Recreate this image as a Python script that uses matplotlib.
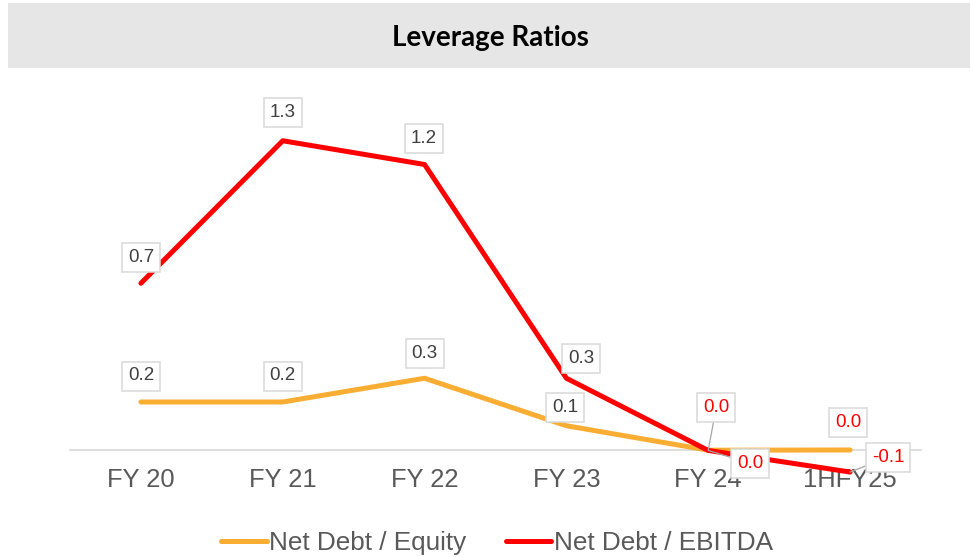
import matplotlib
matplotlib.use("Agg")
import matplotlib.pyplot as plt
from matplotlib.patches import Rectangle

# Data
periods = ["FY 20", "FY 21", "FY 22", "FY 23", "FY 24", "1HFY25"]
net_debt_equity = [0.20, 0.20, 0.30, 0.10, -0.003, -0.002]
net_debt_ebitda = [0.70, 1.30, 1.20, 0.30, -0.004, -0.095]

# Label offsets in pixels (dx, dy) and whether a leader line is drawn
equity_offsets = [(0, 26), (0, 26), (0, 25), (-1, 18), (8, 43), (-2, 27)]
equity_leader = [False, False, False, False, True, False]
ebitda_offsets = [(0, 26), (0, 28), (-1, 26), (15, 20), (42, -13), (38, 15)]
ebitda_leader = [False, False, False, False, True, True]

ORANGE = "#F9AD33"
RED = "#FF0000"
GRAY_TXT = "#595959"
LABEL_TXT = "#404040"

plt.rcParams["font.family"] = ["Liberation Sans", "DejaVu Sans"]

fig = plt.figure(figsize=(9.72, 5.57), dpi=100)

# Title bar
fig.patches.append(Rectangle((8 / 972, 1 - 68 / 557), 962 / 972, 65 / 557,
                             transform=fig.transFigure, facecolor="#E6E6E6",
                             edgecolor="none", zorder=0))
fig.text(490 / 972, 1 - 38 / 557, "Leverage Ratios", ha="center", va="center",
         fontsize=20, fontweight="bold", family=["Lato", "DejaVu Sans"], color="black")

ax = fig.add_axes([70 / 972, 1 - 497 / 557, 851 / 972, 380 / 557])
x = list(range(len(periods)))

ax.plot(x, net_debt_equity, color=ORANGE, lw=3.6, solid_capstyle="round",
        label="Net Debt / Equity", zorder=3)
ax.plot(x, net_debt_ebitda, color=RED, lw=3.6, solid_capstyle="round",
        label="Net Debt / EBITDA", zorder=4)

for s in ["top", "left", "right"]:
    ax.spines[s].set_visible(False)
ax.spines["bottom"].set_position(("data", 0))
ax.spines["bottom"].set_color("#D9D9D9")
ax.spines["bottom"].set_linewidth(1.2)

ax.set_xlim(-0.5, len(periods) - 0.5)
ax.set_ylim(-0.2, 1.4)
ax.set_xticks(x)
ax.set_xticklabels(periods)
ax.set_yticks([])
ax.tick_params(axis="x", length=0, pad=13, labelsize=18.4, labelcolor=GRAY_TXT)


def add_labels(values, offsets, leaders):
    for i, v in enumerate(values):
        txt = "0.0" if abs(v) < 0.05 else f"{v:.1f}"
        col = RED if v < 0 else LABEL_TXT
        arrow = None
        if leaders[i]:
            arrow = dict(arrowstyle="-", color="#A6A6A6", lw=0.9, shrinkA=0, shrinkB=0)
        ax.annotate(txt, xy=(i, v), xytext=offsets[i], textcoords="offset pixels",
                    ha="center", va="center", fontsize=13.5, color=col,
                    bbox=dict(boxstyle="square,pad=0.32", facecolor="white",
                              edgecolor="#D9D9D9", lw=1.1),
                    arrowprops=arrow, zorder=6)


add_labels(net_debt_equity, equity_offsets, equity_leader)
add_labels(net_debt_ebitda, ebitda_offsets, ebitda_leader)

fig.legend(loc="center", bbox_to_anchor=(497 / 972, 1 - 543 / 557), ncol=2,
           frameon=False, fontsize=18.8, labelcolor=GRAY_TXT, handlelength=1.75,
           handletextpad=0.1, columnspacing=1.5)

fig.savefig("out.png", dpi=100, facecolor="white")
